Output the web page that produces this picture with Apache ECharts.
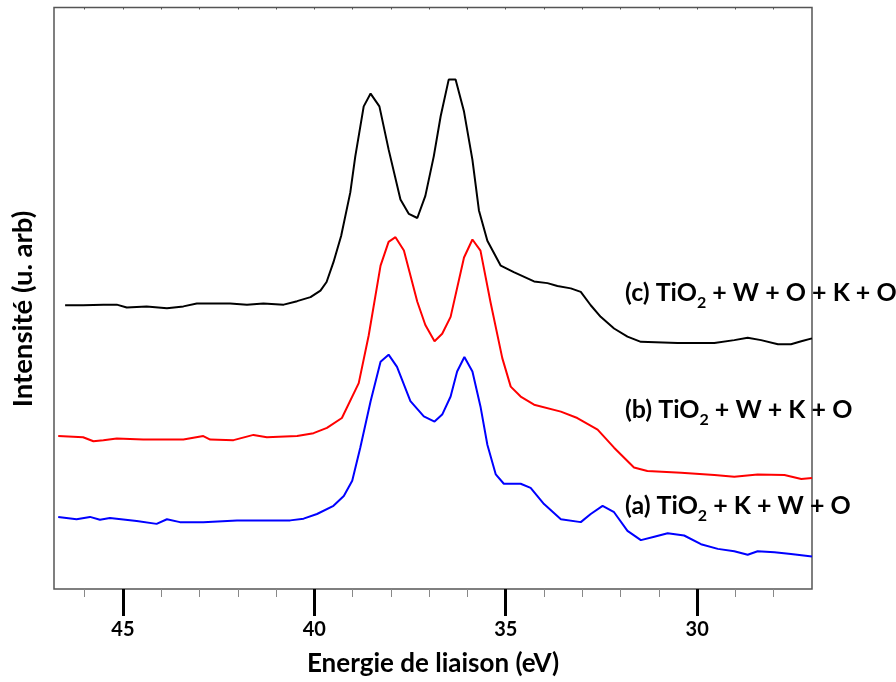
<!DOCTYPE html>
<html><head><meta charset="utf-8">
<script src="https://cdn.jsdelivr.net/npm/echarts@6/dist/echarts.min.js"></script>
<style>html,body{margin:0;padding:0;background:#fff}#c{width:896px;height:682px}</style>
</head><body><div id="c"></div>
<script>
// Binding energy (eV) and intensity (arbitrary units, 0-100)
const energyC = [46.51,46.04,45.51,45.16,44.90,44.38,43.85,43.42,43.07,42.63,42.20,41.76,41.33,40.80,40.45,40.10,39.84,39.68,39.50,39.30,39.06,38.93,38.71,38.53,38.30,38.06,37.75,37.53,37.31,37.10,36.88,36.70,36.49,36.31,36.09,35.87,35.70,35.48,35.13,34.79,34.26,33.91,33.65,33.30,33.04,32.78,32.52,32.17,31.82,31.47,30.51,29.55,29.03,28.68,28.33,27.89,27.55,27.28,27.00];
const intensityC = [48.8,48.8,48.9,48.9,48.4,48.6,48.3,48.6,49.1,49.1,49.1,48.9,49.1,48.9,49.5,50.2,51.3,52.8,56.2,60.7,68.2,74.4,83.0,85.2,83.0,75.6,67.0,64.5,63.8,67.6,74.4,81.3,87.6,87.6,82.1,73.8,65.1,59.9,55.6,54.5,52.9,52.6,52.1,51.7,51.1,48.8,46.8,44.8,43.4,42.5,42.3,42.3,42.8,43.2,42.8,42.1,42.1,42.6,43.1];

const energyB = [46.69,46.04,45.77,45.51,45.16,44.47,43.42,42.90,42.72,42.11,41.59,41.24,40.45,40.02,39.67,39.28,38.84,38.58,38.27,38.06,37.88,37.66,37.31,37.10,36.86,36.66,36.44,36.09,35.87,35.66,35.40,35.09,34.87,34.61,34.26,33.56,33.13,32.60,32.17,31.65,31.30,30.42,29.55,29.03,28.42,27.72,27.28,27.00];
const intensityB = [26.3,26.1,25.4,25.6,25.9,25.7,25.7,26.3,25.7,25.6,26.5,26.1,26.3,26.8,27.7,29.4,35.4,43.6,55.6,59.7,60.5,58.2,49.4,45.4,42.6,43.9,46.8,57.0,60.1,58.2,49.4,39.7,34.8,33.1,31.7,30.5,29.4,27.4,24.3,20.9,20.3,20.0,19.6,19.3,19.7,19.6,18.9,19.1];

const energyA = [46.69,46.21,45.86,45.60,45.34,44.64,44.12,43.85,43.51,42.90,42.02,41.24,40.63,40.28,39.93,39.50,39.23,39.01,38.80,38.53,38.27,38.06,37.84,37.49,37.14,36.86,36.66,36.44,36.27,36.08,35.87,35.66,35.48,35.26,35.05,34.61,34.35,34.00,33.56,33.04,32.78,32.47,32.17,31.82,31.47,31.12,30.77,30.34,29.90,29.46,29.03,28.68,28.42,27.98,27.55,27.00];
const intensityA = [12.4,12.0,12.4,11.9,12.2,11.7,11.2,12.0,11.5,11.5,11.8,11.8,11.8,12.1,12.9,14.3,16.0,18.6,24.3,32.3,39.1,40.3,38.2,32.3,29.7,28.8,30.0,33.1,37.4,39.9,37.4,31.4,24.8,19.7,18.1,18.1,17.4,14.6,12.0,11.5,12.9,14.3,13.2,10.0,8.4,9.0,9.6,9.2,7.7,6.9,6.5,5.9,6.5,6.3,6.0,5.6];

const majorTicks = [30, 35, 40, 45];
const minorTicks = [28,29,31,32,33,34,36,37,38,39,41,42,43,44,46];
const xName = 'Energie de liaison (eV)';
const yName = 'Intensité (u. arb)';
const labelC = ['(c) TiO', '2', ' + W + O + K + O'];
const labelB = ['(b) TiO', '2', ' + W + K + O'];
const labelA = ['(a) TiO', '2', ' + K + W + O'];

const zip = (xs, ys) => xs.map((x, i) => [x, ys[i]]);
const FONT = 'Lato, "Open Sans", sans-serif';

const chart = echarts.init(document.getElementById('c'), null, {renderer: 'canvas'});

function richLabel(parts, y) {
  return {
    type: 'text', left: 625, top: y,
    style: {
      text: '{a|' + parts[0] + '}{s|' + parts[1] + '}{a|' + parts[2] + '}',
      rich: {
        a: {fontFamily: FONT, fontWeight: 'bold', fontSize: 25, fill: '#000', lineHeight: 30, verticalAlign: 'bottom'},
        s: {fontFamily: FONT, fontWeight: 'bold', fontSize: 16, fill: '#000', lineHeight: 30, verticalAlign: 'bottom', padding: [0,0,-6,0]}
      }
    }
  };
}

const common = {min: 27, max: 46.8, inverse: true, type: 'value', gridIndex: 0};

chart.setOption({
  animation: false,
  backgroundColor: '#fff',
  grid: {left: 54, right: 84, top: 7.5, bottom: 90, show: true, borderColor: '#555', borderWidth: 1.5, containLabel: false},
  xAxis: [
    Object.assign({}, common, {
      position: 'bottom',
      name: xName, nameLocation: 'middle', nameGap: 62,
      nameTextStyle: {fontFamily: FONT, fontWeight: 'bold', fontSize: 26, color: '#000'},
      axisLine: {show: false},
      splitLine: {show: false},
      axisTick: {show: true, customValues: majorTicks, length: 27, lineStyle: {color: '#000', width: 3}},
      axisLabel: {show: true, customValues: majorTicks, margin: 31, fontFamily: FONT, fontWeight: 'bold', fontSize: 20, color: '#000'}
    }),
    Object.assign({}, common, {
      position: 'bottom',
      axisLine: {show: false},
      splitLine: {show: false},
      axisTick: {show: true, customValues: minorTicks, length: 8, lineStyle: {color: '#888', width: 1}},
      axisLabel: {show: false}
    }),
    Object.assign({}, common, {
      position: 'top',
      axisLine: {show: false},
      splitLine: {show: false},
      axisTick: {show: true, inside: true, customValues: minorTicks.concat(majorTicks), length: 2, lineStyle: {color: '#555', width: 1}},
      axisLabel: {show: false}
    })
  ],
  yAxis: {
    type: 'value', min: 0, max: 100,
    axisLine: {show: false}, axisTick: {show: false}, axisLabel: {show: false}, splitLine: {show: false}
  },
  series: [
    {type: 'line', xAxisIndex: 0, data: zip(energyC, intensityC), showSymbol: false, lineStyle: {color: '#000', width: 2}, itemStyle: {color: '#000'}},
    {type: 'line', xAxisIndex: 0, data: zip(energyB, intensityB), showSymbol: false, lineStyle: {color: '#ff0000', width: 2}, itemStyle: {color: '#ff0000'}},
    {type: 'line', xAxisIndex: 0, data: zip(energyA, intensityA), showSymbol: false, lineStyle: {color: '#0000ff', width: 2}, itemStyle: {color: '#0000ff'}}
  ],
  graphic: [
    {type: 'text', x: 23, y: 309, rotation: Math.PI / 2,
     style: {text: yName, fontFamily: FONT, fontWeight: 'bold', fontSize: 27.5, fill: '#000', align: 'center', verticalAlign: 'middle'}},
    richLabel(labelC, 280), richLabel(labelB, 397), richLabel(labelA, 493)
  ]
});
</script>
</body></html>
